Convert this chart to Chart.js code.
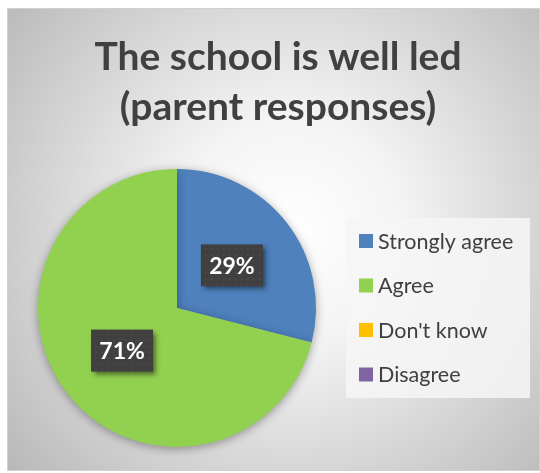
<!DOCTYPE html>
<html>
<head>
<meta charset="utf-8">
<script src="https://cdn.jsdelivr.net/npm/chart.js@4"></script>
<style>
    html, body { margin: 0; padding: 0; background: #ffffff; }
    #wrap { width: 540px; height: 473px; }
</style>
</head>
<body>
<div id="wrap"><canvas id="grafico"></canvas></div>
<script>
const titleLines = ['The school is well led', '(parent responses)']
const categories = ['Strongly agree', 'Agree', "Don't know", 'Disagree']
const values = [29, 71, 0, 0]
const sliceColors = ['#4F81BD', '#92D050', '#FFC000', '#8064A2']

const FONT = 'Lato, "Open Sans", sans-serif'

const fondo = {
    id: 'fondo',
    beforeDraw(chart) {
        const ctx = chart.ctx
        ctx.save()
        ctx.fillStyle = '#ffffff'
        ctx.fillRect(0, 0, chart.width, chart.height)
        const g = ctx.createRadialGradient(290, 230, 0, 290, 230, 370)
        g.addColorStop(0, '#ffffff')
        g.addColorStop(0.3, '#f4f4f4')
        g.addColorStop(1, '#b8b8b8')
        ctx.fillStyle = g
        ctx.fillRect(7, 8, 532, 462)
        ctx.strokeStyle = '#d0d0d0'
        ctx.lineWidth = 1
        ctx.strokeRect(7.5, 8.5, 532, 462)

        // titulo
        ctx.fillStyle = '#404040'
        ctx.font = 'bold 39px ' + FONT
        ctx.textAlign = 'center'
        ctx.textBaseline = 'middle'
        ctx.fillText(titleLines[0], 278, 57)
        ctx.fillText(titleLines[1], 278, 107)

        // leyenda
        ctx.fillStyle = 'rgba(246, 246, 246, 0.85)'
        ctx.fillRect(346, 218, 184, 180)
        ctx.font = '21.5px ' + FONT
        ctx.textAlign = 'left'
        categories.forEach((c, i) => {
            const y = 241 + i * 44.5
            ctx.fillStyle = sliceColors[i]
            ctx.fillRect(359, y - 7, 14, 14)
            ctx.fillStyle = '#404040'
            ctx.fillText(c, 378, y + 1)
        })
        ctx.restore()
    },
    beforeDatasetsDraw(chart) {
        chart.ctx.save()
        chart.ctx.shadowColor = 'rgba(0, 0, 0, 0.35)'
        chart.ctx.shadowBlur = 10
        chart.ctx.shadowOffsetY = 2
    },
    afterDatasetsDraw(chart) {
        chart.ctx.restore()
        const ctx = chart.ctx
        const meta = chart.getDatasetMeta(0)
        const total = values.reduce((a, b) => a + b, 0)
        meta.data.forEach((arc, i) => {
            if (!values[i]) return
            const p = arc.getProps(['x', 'y', 'startAngle', 'endAngle', 'outerRadius'])
            const mid = (p.startAngle + p.endAngle) / 2
            const r = p.outerRadius * 0.5
            const x = p.x + Math.cos(mid) * r
            const y = p.y + Math.sin(mid) * r
            const w = 62, h = 42
            ctx.save()
            ctx.shadowColor = 'rgba(0, 0, 0, 0.5)'
            ctx.shadowBlur = 5
            ctx.shadowOffsetX = 3
            ctx.shadowOffsetY = 3
            ctx.fillStyle = '#404040'
            ctx.fillRect(x - w / 2, y - h / 2, w, h)
            ctx.restore()
            ctx.save()
            ctx.fillStyle = 'rgba(255, 255, 255, 0.08)'
            for (let dx = 4; dx < w; dx += 6) {
                for (let dy = 4; dy < h; dy += 6) {
                    ctx.fillRect(x - w / 2 + dx, y - h / 2 + dy, 1.5, 1.5)
                }
            }
            ctx.fillStyle = '#ffffff'
            ctx.font = 'bold 23px ' + FONT
            ctx.textAlign = 'center'
            ctx.textBaseline = 'middle'
            ctx.fillText(Math.round(values[i] / total * 100) + '%', x, y + 1)
            ctx.restore()
        })
    }
}

new Chart(document.getElementById('grafico'), {
    type: 'pie',
    data: {
        labels: categories,
        datasets: [{
            data: values,
            backgroundColor: sliceColors,
            borderWidth: 0
        }]
    },
    options: {
        responsive: true,
        maintainAspectRatio: false,
        animation: false,
        layout: {
            padding: { left: 38, right: 224, top: 169, bottom: 26 }
        },
        plugins: {
            legend: { display: false },
            title: { display: false },
            tooltip: { enabled: false }
        }
    },
    plugins: [fondo]
})
</script>
</body>
</html>
